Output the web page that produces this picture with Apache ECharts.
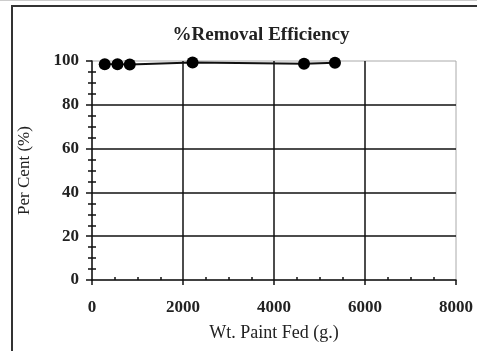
<!DOCTYPE html>
<html><head><meta charset="utf-8">
<script src="https://cdn.jsdelivr.net/npm/echarts@6/dist/echarts.min.js"></script>
<style>html,body{margin:0;padding:0;background:#fff}#c{width:477px;height:351px}</style>
</head><body><div id="c"></div>
<script>
const titleText = '%Removal Efficiency';
const xName = 'Wt. Paint Fed (g.)';
const yName = 'Per Cent (%)';
const paintFed = [280, 560, 830, 2210, 4660, 5340];
const removalPct = [98.5, 98.5, 98.4, 99.3, 98.7, 99.2];
const xTicks = [0, 2000, 4000, 6000, 8000];
const yTicks = [0, 20, 40, 60, 80, 100];

const font = 'Liberation Serif';
const chart = echarts.init(document.getElementById('c'));
const data = paintFed.map((x, i) => [x, removalPct[i]]);
chart.setOption({
  animation: false,
  backgroundColor: '#fff',
  graphic: [
    {type: 'rect', shape: {x: 12, y: 6, width: 490, height: 400}, style: {fill: 'none', stroke: '#333', lineWidth: 2}, z: 100},
    {type: 'line', shape: {x1: 0, y1: 0.5, x2: 477, y2: 0.5}, style: {stroke: '#ccc', lineWidth: 1}, z: 100}
  ],
  title: {
    text: titleText, left: 256, top: 21, textAlign: 'center',
    textStyle: {fontFamily: font, fontWeight: 'bold', fontSize: 19, color: '#222'}
  },
  grid: {left: 92, top: 61, width: 364, height: 219, show: true, borderColor: '#aaa', borderWidth: 1},
  xAxis: [{
    type: 'value', min: xTicks[0], max: xTicks[xTicks.length - 1], interval: 2000,
    name: xName, nameLocation: 'middle', nameGap: 44,
    nameTextStyle: {fontFamily: font, fontSize: 18, color: '#222'},
    axisLine: {show: true, lineStyle: {color: '#111', width: 1.5}},
    axisTick: {show: true, inside: false, length: 5, lineStyle: {color: '#111', width: 1.5}},
    minorTick: {show: false},
    axisLabel: {fontFamily: font, fontWeight: 'bold', fontSize: 17, color: '#222', margin: 19, formatter: v => String(v)},
    splitLine: {show: true, showMinLine: false, showMaxLine: false, lineStyle: {color: '#111', width: 1.5}}
  }, {
    type: 'value', min: xTicks[0], max: xTicks[xTicks.length - 1], interval: 2000, position: 'bottom',
    axisLine: {show: false}, axisLabel: {show: false}, splitLine: {show: false},
    axisTick: {show: false, inside: true},
    minorTick: {show: true, splitNumber: 4, length: 3, lineStyle: {color: '#111', width: 1.5}}
  }],
  yAxis: [{
    type: 'value', min: yTicks[0], max: yTicks[yTicks.length - 1], interval: 20,
    name: yName, nameLocation: 'middle', nameGap: 59,
    nameTextStyle: {fontFamily: font, fontSize: 17, color: '#222'},
    axisLine: {show: true, lineStyle: {color: '#111', width: 1.5}},
    axisTick: {show: true, inside: false, length: 6, lineStyle: {color: '#111', width: 1.5}},
    minorTick: {show: true, splitNumber: 4, length: 4, lineStyle: {color: '#111', width: 1.5}},
    axisLabel: {fontFamily: font, fontWeight: 'bold', fontSize: 17, color: '#222', margin: 13, formatter: v => String(v)},
    splitLine: {show: true, showMinLine: false, showMaxLine: false, lineStyle: {color: '#111', width: 1.5}}
  }, {
    type: 'value', min: yTicks[0], max: yTicks[yTicks.length - 1], interval: 20, position: 'left',
    axisLine: {show: false}, axisLabel: {show: false}, splitLine: {show: false},
    axisTick: {show: false, inside: true},
    minorTick: {show: true, splitNumber: 4, length: 4, lineStyle: {color: '#111', width: 1.5}}
  }],
  series: [{
    type: 'line', data: data, symbol: 'circle', symbolSize: 12,
    itemStyle: {color: '#000'}, lineStyle: {color: '#111', width: 2}, z: 5
  }]
});
</script></body></html>
